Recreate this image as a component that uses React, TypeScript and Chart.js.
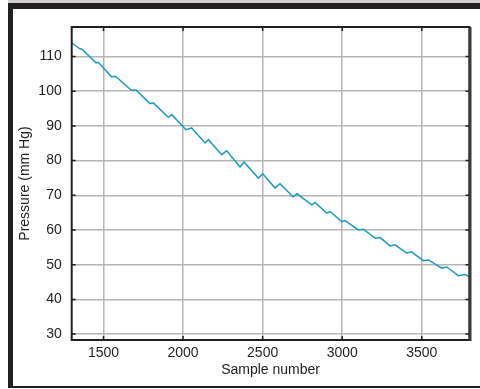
import React, { useEffect, useRef } from "react";
import { Chart, registerables } from "chart.js";

Chart.register(...registerables);

// Sample numbers and cuff pressure readings (mm Hg)
const sampleNumbers = [
  1300, 1352, 1365, 1453, 1467, 1551, 1575, 1673, 1704, 1792, 1813, 1907, 1929,
  2018, 2054, 2138, 2159, 2243, 2274, 2358, 2383, 2473, 2501, 2578, 2609, 2691,
  2716, 2809, 2829, 2903, 2924, 2997, 3018, 3102, 3133, 3207, 3238, 3301, 3332,
  3406, 3433, 3510, 3542, 3626, 3657, 3730, 3772, 3800,
];
const pressure = [
  113.96, 112.22, 112.08, 108.18, 108.35, 104.14, 104.31, 100.33, 100.33, 96.43,
  96.63, 92.47, 93.25, 88.92, 89.41, 85.08, 86.03, 81.7, 82.85, 78.14, 79.59,
  74.97, 76.21, 72.08, 73.32, 69.57, 70.43, 67.26, 67.92, 64.86, 65.32, 62.43,
  62.72, 60.03, 60.24, 57.64, 57.81, 55.42, 55.71, 53.31, 53.77, 51.17, 51.37,
  48.98, 49.35, 46.84, 47.19, 46.47,
];

const xTickValues = [1500, 2000, 2500, 3000, 3500];
const yTickValues = [30, 40, 50, 60, 70, 80, 90, 100, 110];
const xRange = { min: 1300, max: 3800 };
const yRange = { min: 28.3, max: 118.5 };
const xTitle = "Sample number";
const yTitle = "Pressure (mm Hg)";

const FONT = "'Liberation Sans', Arial, Helvetica, sans-serif";
const DARK = "#231f20";

const framePlugin = {
  id: "frameTicks",
  afterDraw(chart: any) {
    const { ctx, chartArea, scales } = chart;
    const { left, right, top, bottom } = chartArea;
    const x = scales.x;
    const y = scales.y;
    ctx.save();
    ctx.strokeStyle = DARK;
    ctx.lineWidth = 1.5;
    ctx.beginPath();
    y.ticks.forEach((t: any) => {
      const py = y.getPixelForValue(t.value);
      ctx.moveTo(left, py);
      ctx.lineTo(left + 4, py);
      ctx.moveTo(right - 4, py);
      ctx.lineTo(right, py);
    });
    x.ticks.forEach((t: any) => {
      const px = x.getPixelForValue(t.value);
      ctx.moveTo(px, top);
      ctx.lineTo(px, top + 4);
      ctx.moveTo(px, bottom - 4);
      ctx.lineTo(px, bottom);
    });
    ctx.stroke();
    ctx.lineWidth = 2;
    ctx.strokeRect(left, top, right - left, bottom - top);
    ctx.lineWidth = 3;
    ctx.strokeStyle = "#3a3a3a";
    ctx.beginPath();
    ctx.moveTo(right + 0.5, top);
    ctx.lineTo(right + 0.5, bottom + 1);
    ctx.stroke();
    ctx.restore();
  },
};

export default function App() {
  const canvasRef = useRef<HTMLCanvasElement | null>(null);

  useEffect(() => {
    if (!canvasRef.current) return;
    const points = sampleNumbers.map((s, i) => ({ x: s, y: pressure[i] }));
    const chart = new Chart(canvasRef.current, {
      type: "line",
      data: {
        datasets: [
          {
            data: points,
            borderColor: "#1c9bc2",
            borderWidth: 1.5,
            pointRadius: 0,
            tension: 0,
            fill: false,
          },
        ],
      },
      options: {
        animation: false,
        responsive: false,
        devicePixelRatio: 1,
        layout: { padding: { left: 0, right: 10.5, top: 27, bottom: 0 } },
        plugins: { legend: { display: false }, tooltip: { enabled: false } },
        scales: {
          x: {
            type: "linear",
            min: xRange.min,
            max: xRange.max,
            afterBuildTicks: (s: any) => {
              s.ticks = xTickValues.map((v) => ({ value: v }));
            },
            afterFit: (s: any) => {
              s.height = 49;
            },
            ticks: {
              padding: 4.6,
              color: DARK,
              font: { family: FONT, size: 14 },
              maxRotation: 0,
              autoSkip: false,
              callback: (v: any) => String(v),
            },
            grid: { color: "#b5b5b5", lineWidth: 1.5, drawTicks: false },
            border: { display: false },
            title: {
              display: true,
              text: xTitle,
              color: DARK,
              font: { family: FONT, size: 14 },
              padding: { top: 0, bottom: 10.6 },
            },
          },
          y: {
            type: "linear",
            min: yRange.min,
            max: yRange.max,
            afterBuildTicks: (s: any) => {
              s.ticks = yTickValues.map((v) => ({ value: v }));
            },
            afterFit: (s: any) => {
              s.width = 71.7;
            },
            ticks: {
              padding: 10,
              color: DARK,
              font: { family: FONT, size: 14 },
              autoSkip: false,
              callback: (v: any) => String(v),
            },
            grid: { color: "#b5b5b5", lineWidth: 1.5, drawTicks: false },
            border: { display: false },
            title: {
              display: true,
              text: yTitle,
              color: DARK,
              font: { family: FONT, size: 14 },
              padding: { top: 16.6, bottom: 0 },
            },
          },
        },
      },
      plugins: [framePlugin],
    });
    return () => chart.destroy();
  }, []);

  return (
    <div
      style={{
        position: "absolute",
        left: 0,
        top: 0,
        width: 480,
        height: 389,
        background: "#fff",
        overflow: "hidden",
      }}
    >
      <canvas
        ref={canvasRef}
        width={480}
        height={389}
        style={{ position: "absolute", left: 0, top: 0, width: 480, height: 389 }}
      />
      <div style={{ position: "absolute", left: 8, top: 0, width: 472, height: 3, background: "#cfcfcf" }} />
      <div style={{ position: "absolute", left: 8, top: 3, width: 472, height: 6, background: DARK }} />
      <div style={{ position: "absolute", left: 8, top: 3, width: 5, height: 385, background: DARK }} />
      <div style={{ position: "absolute", left: 8, top: 386, width: 472, height: 2, background: DARK }} />
    </div>
  );
}
